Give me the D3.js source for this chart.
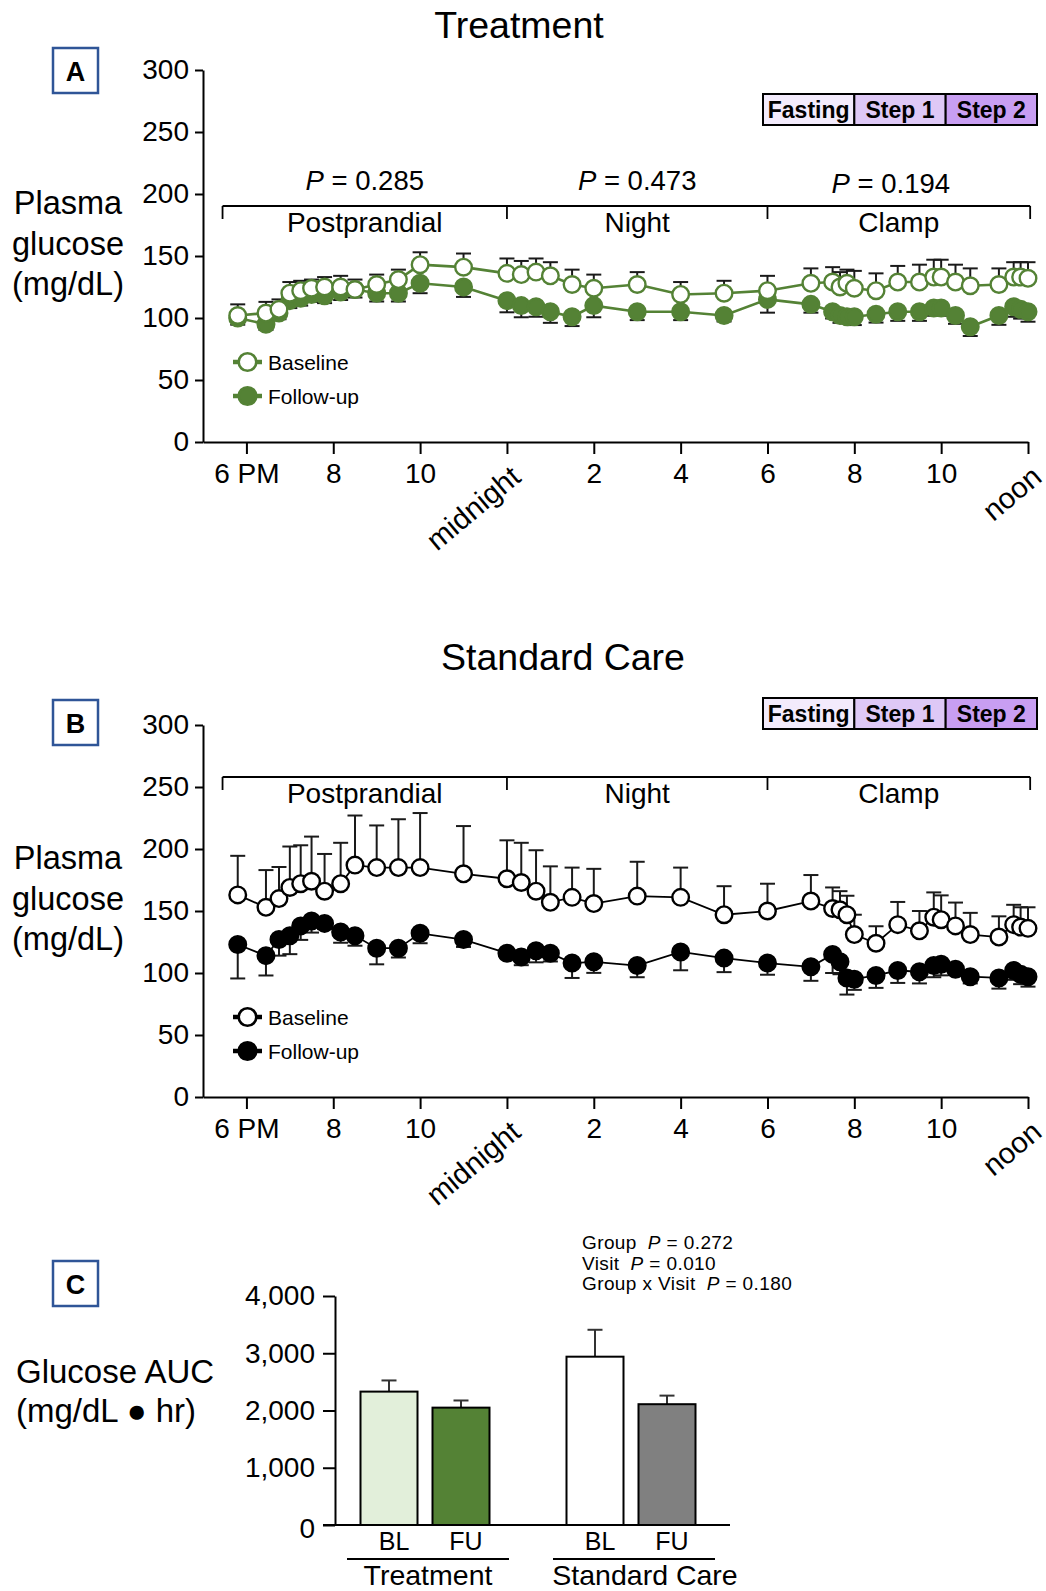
<!DOCTYPE html>
<html>
<head>
<meta charset="utf-8">
<script src="https://cdn.jsdelivr.net/npm/d3@7"></script>
<style>
  body { margin: 0; background: #fff; }
  svg text { font-family: "Liberation Sans", Arial, Helvetica, sans-serif; fill: #000; }
</style>
</head>
<body>
<svg id="fig" width="1046" height="1591"></svg>
<script>
// ---- sampling times (hours after the midnight preceding the 6 PM meal) ----
const sampleHours = [17.8, 18.45, 18.75, 19.0, 19.25, 19.5, 19.8, 20.17, 20.5, 21.0, 21.5, 22.0, 23.0,
  24.0, 24.33, 24.67, 25.0, 25.5, 26.0, 27.0, 28.0, 29.0, 30.0,
  31.0, 31.5, 31.67, 31.83, 32.0, 32.5, 33.0, 33.5, 33.83, 34.0, 34.33, 34.67, 35.33, 35.67, 35.83, 36.0];

const timeTicks = [18, 20, 22, 24, 26, 28, 30, 32, 34, 36];
const timeTickLabels = ["6 PM", "8", "10", "midnight", "2", "4", "6", "8", "10", "noon"];
const glucoseTicks = [0, 50, 100, 150, 200, 250, 300];

// ---- Treatment group: plasma glucose (mg/dL), mean and SE ----
const treatBaseline = [102, 104, 107, 120, 122, 124, 125, 125, 123, 127, 131, 143, 141,
  136, 135, 137, 134, 127, 124, 127, 119, 120, 122,
  128, 129, 125, 128, 124, 122, 129, 129, 133, 133, 129, 126, 127, 133, 133, 132];
const treatBaselineSE = [9, 9, 8, 9, 8, 7, 8, 9, 8, 8, 8, 10, 11,
  12, 11, 11, 11, 12, 11, 10, 10, 10, 12,
  12, 12, 12, 11, 14, 14, 13, 14, 14, 14, 14, 14, 13, 12, 12, 13];
const treatFollowup = [100, 95, 104, 114, 116, 119, 118, 121, 123, 120, 120, 128, 125,
  114, 110, 109, 105, 101, 110, 105, 105, 102, 115,
  111, 105, 102, 101, 101, 103, 105, 105, 108, 108, 102, 93, 102, 109, 107, 105];
const treatFollowupSE = [5.4, 4.6, 5, 6, 6, 6, 6, 6.5, 6.5, 6.7, 6.7, 8, 8,
  9.4, 9.4, 8, 8.9, 7.5, 9.4, 6.7, 6.7, 4.8, 10.7,
  6.7, 5.4, 5.9, 5.4, 6.7, 6.7, 7.3, 7.3, 6.2, 6.2, 6.7, 7.5, 7.5, 8, 7.5, 8];

// ---- Standard care group: plasma glucose (mg/dL), mean and SE ----
const careBaseline = [163, 153, 160, 169, 172, 174, 166, 172, 187, 185, 185, 185, 180,
  176, 173, 166, 157, 161, 156, 162, 161, 147, 150,
  158, 152, 151, 147, 131, 124, 139, 134, 145, 143, 138, 131, 129, 139, 137, 136];
const careBaselineSE = [31.5, 30, 25.5, 33, 31, 36, 30, 33, 40, 34, 39, 44, 38.5,
  31, 32, 33, 29, 24, 28, 27.7, 24, 23, 22,
  21, 17, 15, 15.3, 16, 13.7, 18.3, 16, 20, 19.6, 18.8, 17.5, 16.7, 16, 16, 17];
const careFollowup = [123, 114, 127, 130, 138, 142, 140, 133, 130, 120, 120, 132, 127,
  116, 113, 118, 116, 108, 109, 106, 117, 112, 108,
  105, 115, 109, 96, 95, 98, 102, 101, 106, 107, 103, 97, 96, 102, 99, 97];
const careFollowupSE = [27.4, 16, 13, 14.8, 11.3, 9.4, 4.6, 8.6, 8, 13, 7.5, 8, 6,
  4, 6.7, 9.4, 6.7, 12, 8.9, 9.4, 14.8, 11.3, 9.4,
  11.3, 15, 10, 13.4, 8.6, 10, 10, 9.4, 9.4, 8.9, 4.6, 5.4, 8.6, 7.5, 8, 8];

// ---- study periods ----
const periodNames = ["Postprandial", "Night", "Clamp"];
const periodBounds = [17.45, 24, 30, 36.05];
const treatPeriodP = ["0.285", "0.473", "0.194"];
const clampSteps = ["Fasting", "Step 1", "Step 2"];
const legendLabels = ["Baseline", "Follow-up"];

// ---- glucose AUC (mg/dL · hr) ----
const aucGroups = ["Treatment", "Standard Care"];
const aucVisits = ["BL", "FU"];
const aucMean = [[2330, 2050], [2940, 2110]];
const aucSE = [[195, 125], [470, 150]];
const aucTicks = [0, 1000, 2000, 3000, 4000];
const aucStats = [["Group", "0.272"], ["Visit", "0.010"], ["Group x Visit", "0.180"]];

const FONT = '"Liberation Sans", Arial, Helvetica, sans-serif';
const GREEN = "#548235";
const svg = d3.select("#fig");

function panelLabel(letter, bx, by) {
  svg.append("rect").attr("x", bx).attr("y", by).attr("width", 45).attr("height", 45)
    .attr("fill", "#fff").attr("stroke", "#2f5597").attr("stroke-width", 2.5);
  svg.append("text").attr("x", bx + 22.5).attr("y", by + 23).attr("dy", "0.36em")
    .attr("text-anchor", "middle").attr("font-weight", "bold").attr("font-size", 27).text(letter);
}

function stackedLabel(lines, lx, firstBaseline, step, size, anchor) {
  const t = svg.append("text").attr("text-anchor", anchor).attr("font-size", size);
  lines.forEach((s, i) => t.append("tspan").attr("x", lx).attr("y", firstBaseline + i * step).text(s));
}

const x = d3.scaleLinear().domain([17, 36]).range([203, 1028]);

function timeCourse(cfg) {
  const H = 372;
  const g = svg.append("g").attr("transform", `translate(0,${cfg.top})`);
  const y = d3.scaleLinear().domain([0, 300]).range([H, 0]);

  // title, panel letter and y label
  svg.append("text").attr("x", cfg.titleX).attr("y", cfg.titleY).attr("text-anchor", "middle")
    .attr("font-size", 37.5).text(cfg.title);
  panelLabel(cfg.letter, 53, cfg.letterY);
  stackedLabel(["Plasma", "glucose", "(mg/dL)"], 68, cfg.top + 144, 40.5, 32.5, "middle");

  // axes
  const ya = g.append("g").attr("transform", `translate(${x.range()[0]},0)`)
    .call(d3.axisLeft(y).tickValues(glucoseTicks).tickSize(8).tickPadding(6).tickSizeOuter(0));
  const xa = g.append("g").attr("transform", `translate(0,${H})`)
    .call(d3.axisBottom(x).tickValues(timeTicks).tickFormat((d, i) => timeTickLabels[i])
      .tickSize(12).tickPadding(9).tickSizeOuter(0));
  [ya, xa].forEach(a => {
    a.attr("font-family", FONT).attr("font-size", 28);
    a.select(".domain").attr("stroke", "#000").attr("stroke-width", 2);
    a.selectAll(".tick line").attr("stroke", "#000").attr("stroke-width", 2);
    a.selectAll(".tick text").attr("fill", "#000");
  });
  xa.selectAll(".tick text").filter(d => d === 24 || d === 36)
    .attr("x", null).attr("y", null).attr("dy", null).attr("font-size", 29.5)
    .attr("text-anchor", "end").attr("transform", "translate(15,38) rotate(-40)");

  // period bracket
  const br = g.append("g").attr("stroke", "#000").attr("stroke-width", 1.8);
  br.append("line").attr("x1", x(periodBounds[0])).attr("x2", x(periodBounds[3]))
    .attr("y1", cfg.bracketY).attr("y2", cfg.bracketY);
  periodBounds.forEach(b => br.append("line").attr("x1", x(b)).attr("x2", x(b))
    .attr("y1", cfg.bracketY).attr("y2", cfg.bracketY + 13));
  periodNames.forEach((n, i) => {
    const cx = (x(periodBounds[i]) + x(periodBounds[i + 1])) / 2;
    g.append("text").attr("x", cx).attr("y", cfg.bracketY + 26).attr("text-anchor", "middle")
      .attr("font-size", 28).text(n);
    if (cfg.periodP) {
      const t = g.append("text").attr("x", cx - (i === 2 ? 8 : 0))
        .attr("y", cfg.bracketY - 16 + (i === 2 ? 3 : 0))
        .attr("text-anchor", "middle").attr("font-size", 27.5);
      t.append("tspan").attr("font-style", "italic").text("P");
      t.append("tspan").text(" = " + cfg.periodP[i]);
    }
  });

  // clamp step key
  const sx = d3.scaleBand().domain(clampSteps).range([763, 1037]);
  const stepFill = ["#f3ebfc", "#dec8f6", "#c89ef2"];
  clampSteps.forEach((s, i) => {
    svg.append("rect").attr("x", sx(s)).attr("y", cfg.stepsY).attr("width", sx.bandwidth())
      .attr("height", 31).attr("fill", stepFill[i]).attr("stroke", "#000").attr("stroke-width", 2);
    svg.append("text").attr("x", sx(s) + sx.bandwidth() / 2).attr("y", cfg.stepsY + 16)
      .attr("dy", "0.36em").attr("text-anchor", "middle").attr("font-weight", "bold")
      .attr("font-size", 23).text(s);
  });

  // error bars: baseline upward, follow-up downward
  const eb = g.append("g").attr("stroke", "#1a1a1a").attr("stroke-width", 2);
  const bars = (vals, se, dir) => vals.forEach((v, i) => {
    const cx = x(sampleHours[i]), yEnd = y(v + dir * se[i]);
    eb.append("line").attr("x1", cx).attr("x2", cx).attr("y1", y(v)).attr("y2", yEnd);
    eb.append("line").attr("x1", cx - 7.5).attr("x2", cx + 7.5).attr("y1", yEnd).attr("y2", yEnd);
  });
  bars(cfg.base, cfg.baseSE, 1);
  bars(cfg.follow, cfg.followSE, -1);

  const line = d3.line().x((d, i) => x(sampleHours[i])).y(d => y(d));
  const series = (vals, filled) => {
    g.append("path").datum(vals).attr("d", line).attr("fill", "none")
      .attr("stroke", cfg.color).attr("stroke-width", cfg.lineWidth);
    g.append("g").selectAll("circle").data(vals).join("circle")
      .attr("cx", (d, i) => x(sampleHours[i])).attr("cy", d => y(d)).attr("r", 8.3)
      .attr("fill", filled ? cfg.color : "#fff").attr("stroke", cfg.color).attr("stroke-width", 2.4);
  };
  series(cfg.follow, true);
  series(cfg.base, false);

  // legend
  legendLabels.forEach((lab, i) => {
    const ly = 292 + i * 34;
    g.append("line").attr("x1", 233).attr("x2", 262).attr("y1", ly).attr("y2", ly)
      .attr("stroke", cfg.color).attr("stroke-width", 4.5);
    g.append("circle").attr("cx", 247.5).attr("cy", ly).attr("r", 8.8)
      .attr("fill", i === 0 ? "#fff" : cfg.color).attr("stroke", cfg.color).attr("stroke-width", 2.6);
    g.append("text").attr("x", 268).attr("y", ly).attr("dy", "0.36em").attr("font-size", 21).text(lab);
  });
}

timeCourse({
  top: 70, title: "Treatment", titleX: 519, titleY: 38, letter: "A", letterY: 48,
  bracketY: 136, stepsY: 94, periodP: treatPeriodP, color: GREEN, lineWidth: 2.6,
  base: treatBaseline, baseSE: treatBaselineSE, follow: treatFollowup, followSE: treatFollowupSE
});
timeCourse({
  top: 725, title: "Standard Care", titleX: 563, titleY: 670, letter: "B", letterY: 700,
  bracketY: 52, stepsY: 698, periodP: null, color: "#000", lineWidth: 1.8,
  base: careBaseline, baseSE: careBaselineSE, follow: careFollowup, followSE: careFollowupSE
});

// ---- panel C: glucose AUC bars ----
panelLabel("C", 53, 1261);
stackedLabel(["Glucose AUC", "(mg/dL \u25CF hr)"], 16, 1383, 39, 33, "start");

const yC = d3.scaleLinear().domain([0, 4000]).range([1525, 1296]);
const gx = d3.scalePoint().domain(aucGroups).range([425, 631]);
const vx = d3.scalePoint().domain(aucVisits).range([-36, 36]);
const barW = 57;
const barFill = [["#e2efda", GREEN], ["#ffffff", "#808080"]];

const ca = svg.append("g").attr("transform", "translate(335,0)")
  .call(d3.axisLeft(yC).tickValues(aucTicks).tickFormat(d3.format(",")).tickSize(12).tickPadding(8).tickSizeOuter(0));
ca.attr("font-family", FONT).attr("font-size", 28);
ca.select(".domain").attr("stroke", "#000").attr("stroke-width", 2);
ca.selectAll(".tick line").attr("stroke", "#000").attr("stroke-width", 2);
ca.selectAll(".tick text").attr("fill", "#000");
ca.selectAll(".tick text").filter(d => d === 0).attr("dy", "0.45em");
svg.append("line").attr("x1", 323).attr("x2", 730).attr("y1", yC(0)).attr("y2", yC(0))
  .attr("stroke", "#000").attr("stroke-width", 2);

aucGroups.forEach((grp, gi) => {
  aucVisits.forEach((v, vi) => {
    const cx = gx(grp) + vx(v);
    const m = aucMean[gi][vi], se = aucSE[gi][vi];
    svg.append("line").attr("x1", cx).attr("x2", cx).attr("y1", yC(m)).attr("y2", yC(m + se))
      .attr("stroke", "#333").attr("stroke-width", 2);
    svg.append("line").attr("x1", cx - 7.5).attr("x2", cx + 7.5).attr("y1", yC(m + se)).attr("y2", yC(m + se))
      .attr("stroke", "#333").attr("stroke-width", 2);
    svg.append("rect").attr("x", cx - barW / 2).attr("y", yC(m)).attr("width", barW)
      .attr("height", yC(0) - yC(m)).attr("fill", barFill[gi][vi]).attr("stroke", "#000").attr("stroke-width", 2);
    svg.append("text").attr("x", cx + 5).attr("y", 1550).attr("text-anchor", "middle")
      .attr("font-size", 25).text(v);
  });
  svg.append("line").attr("x1", gx(grp) - 78).attr("x2", gx(grp) + 84).attr("y1", 1559).attr("y2", 1559)
    .attr("stroke", "#000").attr("stroke-width", 2);
  svg.append("text").attr("x", gx(grp) + (gi === 0 ? 3 : 14)).attr("y", 1585).attr("text-anchor", "middle")
    .attr("font-size", 28.5).text(grp);
});

// ANOVA summary, compact three-line block
aucStats.forEach(([name, p], i) => {
  const t = svg.append("text").attr("x", 582).attr("y", 1249 + i * 20.5)
    .attr("font-size", 19).attr("letter-spacing", 0.4);
  t.append("tspan").text(name);
  t.append("tspan").attr("dx", 11).attr("font-style", "italic").text("P");
  t.append("tspan").text(" = " + p);
});
</script>
</body>
</html>
